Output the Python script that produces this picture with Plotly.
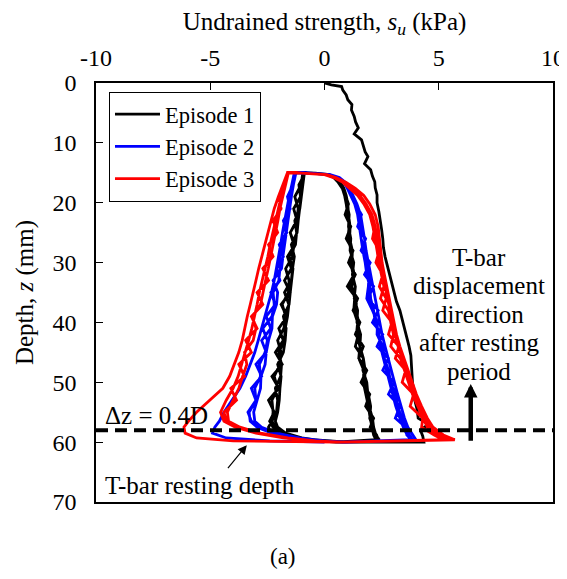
import plotly.graph_objects as go

FONT = "Liberation Serif, Times New Roman, serif"

# ---- axes ----
X_TICKS = [-10, -5, 0, 5, 10]
X_TICK_LABELS = ["-10", "-5", "0", "5", "10"]
Y_TICKS = [0, 10, 20, 30, 40, 50, 60, 70]

# ---- Episode 1: initial penetration (depth mm, su kPa) ----
INIT_Z = [0, 0.3, 0.6, 1.2, 2.0, 2.8, 3.6, 4.5, 5.6, 6.5, 7.5, 8.5, 9.5, 10.5, 11.5, 12.3,
          13.5, 14.5, 15.6, 16.5, 17.5, 18.7, 20, 21.5, 23, 24.5, 26, 27.5, 29, 30.5, 32,
          33.5, 35, 36.5, 38, 39.5, 41, 42.5, 44, 45.5, 47, 48.5, 50, 51.5, 53, 54.5, 56,
          57, 58, 59, 60]
INIT_SU = [0, 0.3, 0.75, 0.8, 0.95, 1.02, 1.2, 1.18, 1.3, 1.36, 1.48, 1.3, 1.62, 1.7, 1.78, 1.9,
           1.75, 2.02, 2.1, 2.2, 2.22, 2.3, 2.3, 2.38, 2.45, 2.5, 2.55, 2.58, 2.65, 2.75, 2.85,
           2.95, 3.05, 3.15, 3.3, 3.4, 3.5, 3.62, 3.7, 3.78, 3.8, 3.85, 3.85, 3.9, 3.95, 4.05, 4.1,
           4.55, 4.2, 4.3, 4.35]

# ---- cyclic depths: extraction (60 -> 15) and penetration (15 -> 60) ----
ZE = [60, 59.8, 59.3, 58.5, 57.5, 56.5, 55, 53, 51, 49, 47, 45, 43, 41, 39, 37, 35, 33, 31,
      29, 27, 25, 23, 21, 19, 17, 15.8, 15]
ZP = [15.05, 15.3, 15.8, 16.6, 17.6, 18.8, 20.2, 22, 24, 26, 28, 30, 32, 34, 36, 38, 40, 42,
      44, 46, 48, 50, 52, 54, 56, 57.5, 58.8, 59.6]

# Episode 1 cycles (black)
EP1_EXT = [
    [1.0, 0.2, -1.6, -2.35, -2.45, -2.3, -2.25, -2.3, -2.05, -2.2, -1.95, -1.9, -2.05, -1.78,
     -1.7, -1.85, -1.58, -1.55, -1.7, -1.4, -1.34, -1.5, -1.22, -1.15, -1.3, -1.02, -0.98, -0.95],
    [0.6, -0.2, -1.1, -1.8, -2.15, -2.3, -2.1, -2.05, -2.15, -1.92, -1.88, -2.0, -1.75, -1.72,
     -1.62, -1.56, -1.75, -1.45, -1.4, -1.32, -1.45, -1.2, -1.15, -1.08, -1.0, -0.96, -0.92, -0.9],
    [0.5, -0.1, -1.0, -1.7, -2.05, -2.15, -2.05, -1.98, -1.95, -1.9, -2.05, -1.8, -1.72, -1.68,
     -1.8, -1.55, -1.5, -1.45, -1.38, -1.55, -1.27, -1.22, -1.3, -1.08, -1.02, -0.95, -0.9, -0.88],
    [0.5, -0.2, -1.2, -1.9, -2.25, -2.4, -2.2, -2.45, -2.0, -2.3, -1.85, -2.15, -1.8, -2.0,
     -1.65, -1.9, -1.5, -1.75, -1.45, -1.62, -1.3, -1.5, -1.2, -1.35, -1.05, -1.12, -0.95, -0.92],
]
EP1_PEN = [
    [-0.4, 0.2, 0.5, 0.7, 0.85, 0.95, 1.02, 1.05, 1.12, 1.1, 1.22, 1.2, 1.3, 1.0, 1.4, 1.38,
     1.5, 1.48, 1.35, 1.7, 1.68, 1.85, 1.9, 1.95, 2.1, 2.15, 2.25, 2.4],
    [-0.5, 0.15, 0.45, 0.65, 0.8, 0.9, 0.98, 1.08, 1.05, 1.15, 1.12, 1.28, 1.22, 1.35, 1.3,
     1.45, 1.42, 1.58, 1.55, 1.7, 1.78, 1.75, 1.92, 2.02, 1.98, 2.12, 2.2, 2.3],
    [-0.5, 0.1, 0.4, 0.6, 0.78, 0.88, 0.95, 1.0, 1.08, 1.02, 1.18, 1.15, 1.25, 1.2, 1.32, 1.28,
     1.45, 1.4, 1.55, 1.5, 1.72, 1.7, 1.82, 1.92, 2.0, 2.08, 2.15, 2.25],
    [-0.5, 0.15, 0.45, 0.68, 0.82, 0.92, 1.05, 0.9, 1.15, 0.95, 1.25, 1.05, 1.35, 1.1, 1.45,
     1.25, 1.55, 1.35, 1.7, 1.5, 1.85, 1.6, 1.98, 1.8, 2.15, 2.0, 2.28, 2.35],
]

# Episode 2 cycles (blue)
EP2_EXT = [
    [0.0, -2.4, -4.3, -4.9, -4.8, -4.6, -4.4, -4.05, -3.7, -3.45, -3.25, -3.05, -2.9, -2.75,
     -2.6, -2.45, -2.32, -2.2, -2.1, -2.0, -1.92, -1.84, -1.75, -1.65, -1.55, -1.43, -1.35, -1.32],
    [0.9, 0.0, -1.2, -2.3, -2.95, -3.25, -3.3, -3.0, -3.05, -2.8, -2.85, -2.6, -2.5, -2.7,
     -2.3, -2.2, -2.25, -2.0, -1.95, -1.95, -1.8, -1.7, -1.68, -1.55, -1.48, -1.38, -1.3, -1.28],
    [0.8, -0.1, -1.1, -2.1, -2.75, -3.05, -3.1, -2.95, -2.8, -2.78, -2.6, -2.55, -2.45, -2.3,
     -2.28, -2.1, -2.05, -2.25, -1.88, -1.82, -1.75, -1.68, -1.6, -1.52, -1.45, -1.36, -1.28, -1.25],
    [0.8, -0.1, -1.2, -2.2, -2.85, -3.2, -3.35, -3.0, -3.2, -2.75, -3.0, -2.55, -2.75, -2.35,
     -2.55, -2.15, -2.35, -1.95, -2.1, -1.8, -1.98, -1.65, -1.8, -1.5, -1.62, -1.38, -1.32, -1.28],
]
EP2_PEN = [
    [-0.6, 0.25, 0.65, 0.92, 1.1, 1.25, 1.42, 1.58, 1.68, 1.75, 1.82, 1.92, 2.0, 2.1, 2.2, 2.3,
     2.4, 2.52, 2.65, 2.78, 2.92, 3.05, 3.2, 3.35, 3.5, 3.65, 3.85, 4.0],
    [-0.6, 0.2, 0.6, 0.88, 1.05, 1.2, 1.38, 1.5, 1.62, 1.6, 1.78, 1.8, 1.95, 1.92, 1.85, 2.1,
     2.32, 2.3, 2.55, 2.62, 2.8, 2.9, 3.1, 3.2, 3.4, 3.52, 3.72, 3.85],
    [-0.6, 0.15, 0.55, 0.85, 1.0, 1.15, 1.32, 1.45, 1.52, 1.62, 1.68, 1.78, 1.85, 1.98, 2.02,
     2.15, 2.22, 2.38, 2.45, 2.58, 2.72, 2.85, 3.0, 3.12, 3.3, 3.45, 3.62, 3.78],
    [-0.6, 0.2, 0.6, 0.88, 1.05, 1.2, 1.35, 1.62, 1.45, 1.8, 1.6, 2.0, 1.75, 2.15, 1.9, 2.35,
     2.1, 2.55, 2.3, 2.8, 2.55, 3.05, 2.8, 3.3, 3.1, 3.55, 3.6, 3.8],
]

# Episode 3 cycles (red)
EP3_EXT = [
    [0.5, -4.0, -5.6, -6.1, -6.15, -5.95, -5.6, -5.0, -4.45, -4.15, -3.95, -3.75, -3.6, -3.5,
     -3.38, -3.25, -3.14, -3.0, -2.88, -2.75, -2.62, -2.48, -2.35, -2.2, -2.02, -1.82, -1.68, -1.62],
    [0.8, -0.5, -1.8, -3.0, -3.9, -4.4, -4.55, -4.3, -4.0, -3.78, -3.62, -3.45, -3.32, -3.18,
     -3.05, -2.95, -2.85, -2.72, -2.6, -2.48, -2.38, -2.26, -2.15, -2.05, -1.9, -1.75, -1.65, -1.6],
    [0.7, -0.4, -1.6, -2.8, -3.7, -4.2, -4.25, -4.0, -3.75, -3.58, -3.4, -3.5, -3.12, -3.0,
     -3.15, -2.8, -2.7, -2.58, -2.46, -2.35, -2.25, -2.14, -2.04, -1.95, -1.84, -1.72, -1.63, -1.58],
    [0.7, -0.5, -1.7, -2.9, -3.8, -4.3, -4.4, -3.85, -4.1, -3.5, -3.75, -3.2, -3.45, -2.95,
     -3.2, -2.7, -2.95, -2.45, -2.7, -2.25, -2.45, -2.05, -2.25, -1.9, -2.0, -1.7, -1.65, -1.6],
]
EP3_PEN = [
    [-1.0, 0.1, 0.5, 0.95, 1.35, 1.72, 1.98, 2.22, 2.35, 2.4, 2.45, 2.52, 2.62, 2.72, 2.82,
     2.92, 3.02, 3.15, 3.3, 3.48, 3.65, 3.85, 4.02, 4.25, 4.5, 4.75, 5.2, 5.7],
    [-1.0, 0.05, 0.45, 0.85, 1.2, 1.55, 1.82, 2.08, 2.22, 2.3, 2.36, 2.45, 2.55, 2.65, 2.75,
     2.85, 2.95, 3.08, 3.22, 3.4, 3.58, 3.75, 3.92, 4.15, 4.4, 4.6, 5.0, 5.4],
    [-1.0, 0.0, 0.4, 0.8, 1.1, 1.45, 1.72, 1.98, 2.12, 2.22, 2.3, 2.38, 2.48, 2.6, 2.45, 2.8,
     2.9, 3.02, 2.9, 3.32, 3.5, 3.68, 3.85, 4.08, 4.32, 4.5, 4.9, 5.3],
    [-1.0, 0.05, 0.42, 0.82, 1.15, 1.5, 1.78, 2.02, 2.2, 2.1, 2.4, 2.25, 2.55, 2.4, 2.7, 2.55,
     2.95, 2.8, 3.25, 3.1, 3.55, 3.4, 3.9, 3.75, 4.3, 4.25, 4.8, 5.2],
]

EPISODE_NAMES = ["Episode 1", "Episode 2", "Episode 3"]
EPISODE_COLORS = ["#000000", "#0000FF", "#FF0000"]

DZ_DEPTH = 58          # depth of delta z = 0.4D line


def build(ext_list, pen_list, x0=None, y0=None):
    xs = list(x0) if x0 else []
    ys = list(y0) if y0 else []
    for e, p in zip(ext_list, pen_list):
        xs += e
        ys += ZE
        xs += p
        ys += ZP
    return xs, ys


series = [
    build(EP1_EXT, EP1_PEN, INIT_SU, INIT_Z),
    build(EP2_EXT, EP2_PEN),
    build(EP3_EXT, EP3_PEN),
]

fig = go.Figure()
for (xs, ys), name, col in zip(series, EPISODE_NAMES, EPISODE_COLORS):
    fig.add_trace(go.Scatter(x=xs, y=ys, mode="lines", name=name,
                             line=dict(color=col, width=2.8)))

fig.add_shape(type="line", xref="paper", x0=0, x1=1, yref="y", y0=DZ_DEPTH, y1=DZ_DEPTH,
              line=dict(color="black", width=4, dash="12px,7px"), layer="above")

TEXT_LINES = ["T-bar", "displacement", "direction", "after resting", "period"]
for i, t in enumerate(TEXT_LINES):
    fig.add_annotation(x=6.78, y=29.1 + 4.77 * i, xref="x", yref="y", text=t, showarrow=False,
                       xanchor="center", yanchor="middle", font=dict(size=25))

fig.add_annotation(x=6.4, y=50.3, ax=6.4, ay=60.0, xref="x", yref="y", axref="x", ayref="y",
                   text="", showarrow=True, arrowhead=2, arrowsize=0.6, arrowwidth=4.5,
                   arrowcolor="black")
fig.add_annotation(x=-9.69, y=55.5, xref="x", yref="y", text="Δz = 0.4D", showarrow=False,
                   xanchor="left", yanchor="middle", font=dict(size=25))
fig.add_annotation(x=-9.69, y=67.2, xref="x", yref="y", text="T-bar resting depth",
                   showarrow=False, xanchor="left", yanchor="middle", font=dict(size=25))
fig.add_annotation(x=-3.4, y=60.5, ax=-4.28, ay=64.6, xref="x", yref="y", axref="x", ayref="y",
                   text="", showarrow=True, arrowhead=2, arrowsize=1.5, arrowwidth=1.2,
                   arrowcolor="black")
fig.add_annotation(x=0.409, y=-0.131, xref="paper", yref="paper", text="(a)", showarrow=False,
                   xanchor="center", yanchor="middle", font=dict(size=23))

# the page body has an 8px margin, so the figure is 8px smaller than the window
fig.update_layout(
    width=559, height=571,
    margin=dict(l=88, r=14, t=75, b=77, autoexpand=False),
    paper_bgcolor="white", plot_bgcolor="white",
    font=dict(family=FONT, size=24, color="black"),
    showlegend=True,
    legend=dict(x=0.028, y=0.979, xanchor="left", yanchor="top", bordercolor="black",
                borderwidth=1.2, bgcolor="white", font=dict(size=22.5), tracegroupgap=0,
                itemwidth=45),
)
fig.update_xaxes(side="top", range=[-10, 10], tickvals=X_TICKS, ticktext=X_TICK_LABELS,
                 ticks="inside", ticklen=7, tickwidth=1.3, tickcolor="black",
                 showline=True, linecolor="black", linewidth=1.5, mirror=True,
                 showgrid=False, zeroline=False, ticklabelstandoff=6, automargin=False,
                 tickfont=dict(size=24),
                 title=dict(text="Undrained strength, <i>s<sub>u</sub></i> (kPa)", standoff=12,
                            font=dict(size=25)))
fig.update_yaxes(range=[70, 0], tickvals=Y_TICKS, ticks="inside", ticklen=7, tickwidth=1.3,
                 tickcolor="black", showline=True, linecolor="black", linewidth=1.5, mirror=True,
                 showgrid=False, zeroline=False, ticklabelstandoff=13, automargin=False,
                 tickfont=dict(size=24),
                 title=dict(text="Depth, <i>z</i> (mm)", standoff=12, font=dict(size=25)))

fig.write_html("out.html")
